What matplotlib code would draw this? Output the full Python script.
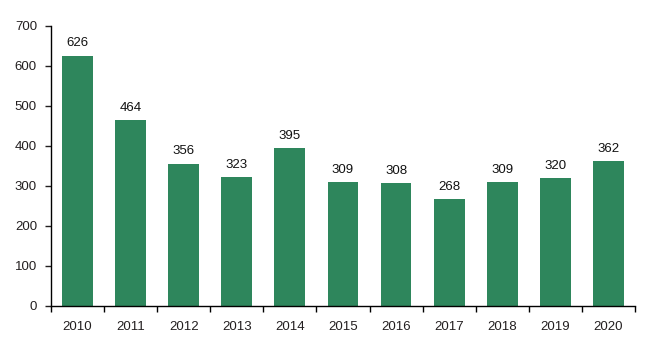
import numpy as np
import matplotlib
matplotlib.use('Agg')
import matplotlib.pyplot as plt

plt.rcParams['font.family'] = ['Liberation Sans', 'DejaVu Sans']
plt.rcParams['font.size'] = 9

years = ['2010', '2011', '2012', '2013', '2014', '2015', '2016', '2017', '2018', '2019', '2020']
values = [626, 464, 356, 323, 395, 309, 308, 268, 309, 320, 362]

fig = plt.figure(figsize=(6.52, 3.54), dpi=100)
ax = fig.add_axes([0.078, 0.1356, 0.896, 0.791])

x = np.arange(len(years))
ax.bar(x, values, width=0.58, color='#2e865c', zorder=2)
for xi, v in zip(x, values):
    ax.annotate(str(v), (xi, v), xytext=(0, 4.5), textcoords='offset points',
                ha='center', va='bottom', fontsize=9.5, color='#111111')

ax.set_xlim(-0.5, len(years) - 0.5)
ax.set_ylim(0, 700)
ax.set_yticks(range(0, 701, 100))
ax.set_xticks(x)
ax.set_xticklabels(years)
ax.set_xticks(np.arange(-0.5, len(years), 1), minor=True)
ax.tick_params(axis='x', which='major', length=0, pad=10.5, colors='#231f20', labelsize=9.5)
ax.tick_params(axis='x', which='minor', length=4, direction='out', width=1)
ax.tick_params(axis='y', length=4, direction='out', width=1, colors='#231f20', pad=6, labelsize=9.5)
for lab in ax.get_xticklabels() + ax.get_yticklabels():
    lab.set_color('#231f20')

ax.spines['top'].set_visible(False)
ax.spines['right'].set_visible(False)
ax.spines['left'].set_linewidth(1)
ax.spines['bottom'].set_linewidth(1)

fig.savefig('out.png', dpi=100)
